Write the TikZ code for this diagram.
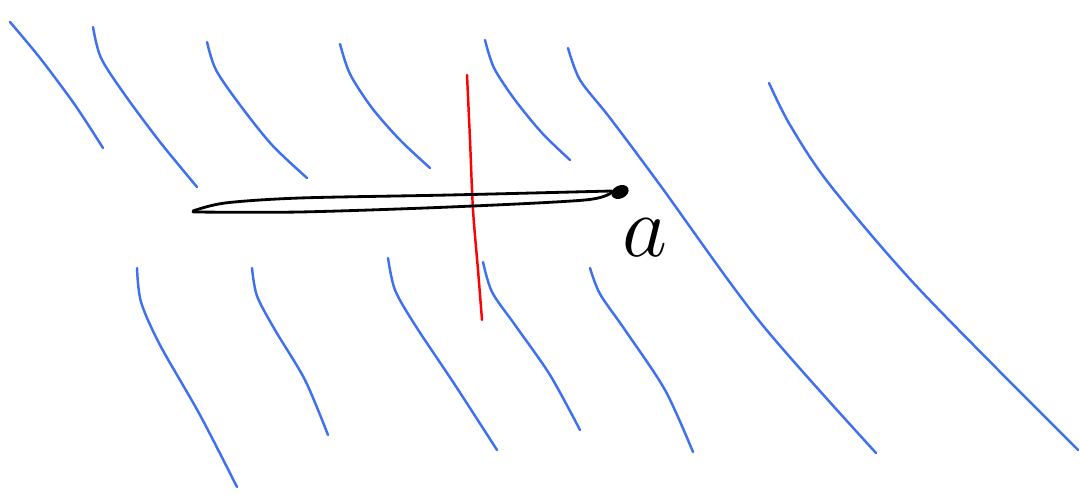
\documentclass[tikz,border=0pt]{standalone}
\usepackage{tikz}
\usetikzlibrary{positioning, shapes.geometric}

\definecolor{fieldblue}{RGB}{62,112,240}

\tikzset{
  fieldline/.style={fieldblue, line width=0.7pt, line cap=round},
  cutline/.style={red, line width=0.7pt, line cap=round},
  slitline/.style={black, line width=0.8pt, line cap=round, line join=round}
}

\begin{document}
\begin{tikzpicture}[x=0.01cm, y=-0.01cm]
        \useasboundingbox (0,0) rectangle (1080,495);

        % Upper row of field lines
        \draw[fieldline] plot[smooth] coordinates {(10,22) (40,58) (75,105) (103,148)};
        \draw[fieldline] plot[smooth] coordinates {(93,27) (101,58) (125,95) (160,142) (197,187)};
        \draw[fieldline] plot[smooth] coordinates {(207,42) (216,70) (240,105) (272,145) (307,178)};
        \draw[fieldline] plot[smooth] coordinates {(340,44) (350,74) (372,108) (400,140) (430,168)};
        \draw[fieldline] plot[smooth] coordinates {(485,40) (494,68) (515,100) (542,133) (570,160)};
        \draw[fieldline] plot[smooth] coordinates {(568,48) (580,80) (610,118) (660,185) (760,322) (876,453)};
        \draw[fieldline] plot[smooth] coordinates {(769,83) (790,125) (830,185) (920,290) (1078,450)};

        % Lower row of field lines
        \draw[fieldline] plot[smooth] coordinates {(137,268) (141,302) (160,345) (200,415) (237,487)};
        \draw[fieldline] plot[smooth] coordinates {(252,268) (257,296) (275,330) (305,380) (328,435)};
        \draw[fieldline] plot[smooth] coordinates {(388,258) (395,290) (415,325) (455,385) (497,450)};
        \draw[fieldline] plot[smooth] coordinates {(483,262) (492,292) (515,325) (550,375) (580,430)};
        \draw[fieldline] plot[smooth] coordinates {(590,268) (600,294) (625,330) (665,390) (693,452)};

        % The cut
        \draw[cutline] plot[smooth] coordinates {(467,75) (470,140) (473,210) (478,270) (482,320)};

        % The slit
        \draw[slitline] plot[smooth] coordinates {(193,211) (225,203) (300,198) (450,195) (612,191)};
        \draw[slitline] plot[smooth] coordinates {(193,212) (300,212) (450,207) (585,200) (612,192)};
        \node[fill=black, ellipse, inner sep=0pt, minimum width=0.18cm, minimum height=0.13cm, rotate=25] (tip) at (620,192) {};
        \node[font=\fontsize{25}{25}\selectfont] (tiplabel) at (645,238) {$a$};
    \end{tikzpicture}
\end{document}
